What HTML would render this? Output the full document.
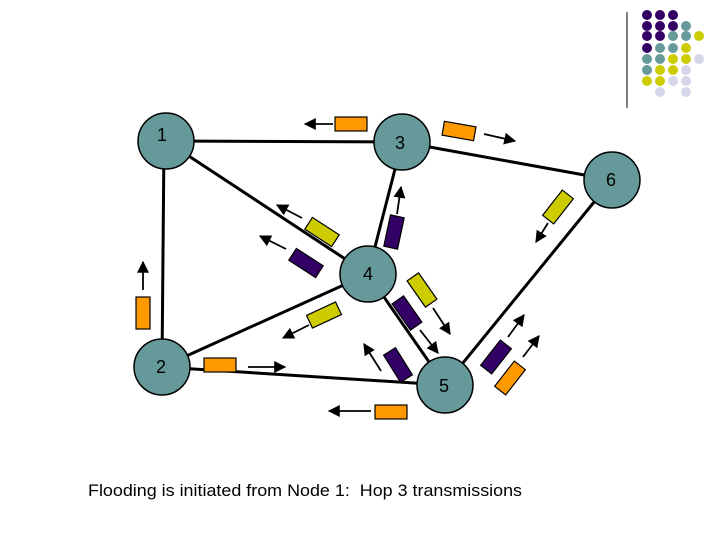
<!DOCTYPE html>
<html><head><meta charset="utf-8"><style>
html,body{margin:0;padding:0;background:#fff;}
svg{display:block;}
</style></head><body>
<svg width="720" height="540" viewBox="0 0 720 540" xmlns="http://www.w3.org/2000/svg" font-family="Liberation Sans, sans-serif">
<defs>
<marker id="a" viewBox="0 0 10 10" refX="9" refY="5" markerWidth="12" markerHeight="12" orient="auto" markerUnits="userSpaceOnUse"><path d="M0,0 L10,5 L0,10 z" fill="#000"/></marker>
</defs>
<line x1="627" y1="12" x2="627" y2="108" stroke="#000" stroke-width="1"/>
<g>
<circle cx="647" cy="15" r="5" fill="#330066"/><circle cx="660" cy="15" r="5" fill="#330066"/><circle cx="673" cy="15" r="5" fill="#330066"/>
<circle cx="647" cy="26" r="5" fill="#330066"/><circle cx="660" cy="26" r="5" fill="#330066"/><circle cx="673" cy="26" r="5" fill="#330066"/><circle cx="686" cy="26" r="5" fill="#669999"/>
<circle cx="647" cy="36" r="5" fill="#330066"/><circle cx="660" cy="36" r="5" fill="#330066"/><circle cx="673" cy="36" r="5" fill="#669999"/><circle cx="686" cy="36" r="5" fill="#669999"/><circle cx="699" cy="36" r="5" fill="#cccc00"/>
<circle cx="647" cy="48" r="5" fill="#330066"/><circle cx="660" cy="48" r="5" fill="#669999"/><circle cx="673" cy="48" r="5" fill="#669999"/><circle cx="686" cy="48" r="5" fill="#cccc00"/>
<circle cx="647" cy="59" r="5" fill="#669999"/><circle cx="660" cy="59" r="5" fill="#669999"/><circle cx="673" cy="59" r="5" fill="#cccc00"/><circle cx="686" cy="59" r="5" fill="#cccc00"/><circle cx="699" cy="59" r="5" fill="#d6d6ea"/>
<circle cx="647" cy="70" r="5" fill="#669999"/><circle cx="660" cy="70" r="5" fill="#cccc00"/><circle cx="673" cy="70" r="5" fill="#cccc00"/><circle cx="686" cy="70" r="5" fill="#d6d6ea"/>
<circle cx="647" cy="81" r="5" fill="#cccc00"/><circle cx="660" cy="81" r="5" fill="#cccc00"/><circle cx="673" cy="81" r="5" fill="#d6d6ea"/><circle cx="686" cy="81" r="5" fill="#d6d6ea"/>
<circle cx="660" cy="92" r="5" fill="#d6d6ea"/><circle cx="686" cy="92" r="5" fill="#d6d6ea"/>
</g>
<g stroke="#000" stroke-width="3">
<line x1="166" y1="141" x2="402" y2="142"/>
<line x1="164" y1="141" x2="162" y2="367"/>
<line x1="166" y1="141" x2="368" y2="274"/>
<line x1="402" y1="142" x2="368" y2="274"/>
<line x1="402" y1="142" x2="612" y2="180"/>
<line x1="368" y1="274" x2="162" y2="367"/>
<line x1="368" y1="274" x2="445" y2="385"/>
<line x1="162" y1="367" x2="445" y2="385"/>
<line x1="445" y1="385" x2="612" y2="180"/>
</g>
<g fill="#669999" stroke="#000" stroke-width="1.5">
<circle cx="166" cy="141" r="28"/><circle cx="402" cy="142" r="28"/><circle cx="612" cy="180" r="28"/>
<circle cx="368" cy="274" r="28"/><circle cx="162" cy="367" r="28"/><circle cx="445" cy="385" r="28"/>
</g>
<g font-size="18" fill="#000" text-anchor="middle">
<text x="162" y="141">1</text><text x="400" y="149">3</text><text x="611" y="186">6</text>
<text x="368" y="280">4</text><text x="161" y="373">2</text><text x="444" y="392">5</text>
</g>
<g stroke="#000" stroke-width="1.2">
<rect x="-16" y="-7" width="32" height="14" fill="#ff9900" transform="translate(351,124)"/>
<rect x="-16" y="-7" width="32" height="14" fill="#ff9900" transform="translate(459,131) rotate(10)"/>
<rect x="-16" y="-7" width="32" height="14" fill="#cccc00" transform="translate(558,207) rotate(-52)"/>
<rect x="-16" y="-7" width="32" height="14" fill="#330066" transform="translate(394,232) rotate(-78)"/>
<rect x="-16" y="-7" width="32" height="14" fill="#cccc00" transform="translate(322,232) rotate(33)"/>
<rect x="-16" y="-7" width="32" height="14" fill="#330066" transform="translate(306,263) rotate(33)"/>
<rect x="-16" y="-7" width="32" height="14" fill="#ff9900" transform="translate(143,313) rotate(90)"/>
<rect x="-16" y="-7" width="32" height="14" fill="#cccc00" transform="translate(324,315) rotate(-25)"/>
<rect x="-16" y="-7" width="32" height="14" fill="#cccc00" transform="translate(422,290) rotate(55)"/>
<rect x="-16" y="-7" width="32" height="14" fill="#330066" transform="translate(407,313) rotate(55)"/>
<rect x="-16" y="-7" width="32" height="14" fill="#330066" transform="translate(398,365) rotate(58)"/>
<rect x="-16" y="-7" width="32" height="14" fill="#ff9900" transform="translate(220,365)"/>
<rect x="-16" y="-7" width="32" height="14" fill="#ff9900" transform="translate(391,412)"/>
<rect x="-16" y="-7" width="32" height="14" fill="#330066" transform="translate(496,357) rotate(-52)"/>
<rect x="-16" y="-7" width="32" height="14" fill="#ff9900" transform="translate(510,378) rotate(-52)"/>
</g>
<g stroke="#000" stroke-width="1.8" marker-end="url(#a)">
<line x1="333" y1="124" x2="305" y2="124"/>
<line x1="484" y1="134" x2="515" y2="141"/>
<line x1="548" y1="223" x2="536" y2="242"/>
<line x1="397" y1="214" x2="401" y2="187"/>
<line x1="302" y1="218" x2="277" y2="205"/>
<line x1="286" y1="249" x2="260" y2="236"/>
<line x1="143" y1="290" x2="143" y2="262"/>
<line x1="309" y1="325" x2="283" y2="338"/>
<line x1="433" y1="308" x2="450" y2="334"/>
<line x1="420" y1="330" x2="438" y2="353"/>
<line x1="381" y1="371" x2="364" y2="344"/>
<line x1="248" y1="367" x2="285" y2="367"/>
<line x1="371" y1="411" x2="329" y2="411"/>
<line x1="508" y1="337" x2="524" y2="315"/>
<line x1="523" y1="357" x2="539" y2="336"/>
</g>
<text x="88" y="496" font-size="17" fill="#000" xml:space="preserve" style="white-space:pre" textLength="434" lengthAdjust="spacingAndGlyphs">Flooding is initiated from Node 1:  Hop 3 transmissions</text>
</svg>
</body></html>
